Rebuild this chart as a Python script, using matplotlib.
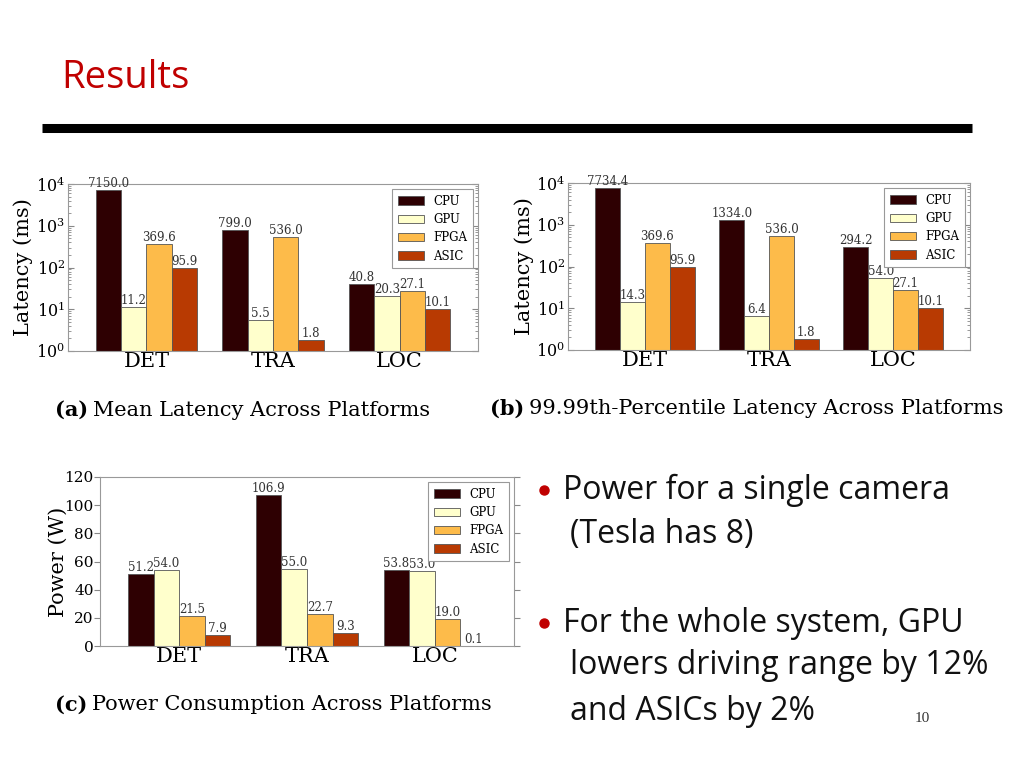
import matplotlib
matplotlib.use("Agg")
import matplotlib.pyplot as plt
import numpy as np
from matplotlib.lines import Line2D

# ---- data ----
categories = ["DET", "TRA", "LOC"]
platforms = ["CPU", "GPU", "FPGA", "ASIC"]
mean_latency = {
    "CPU": [7150.0, 799.0, 40.8],
    "GPU": [11.2, 5.5, 20.3],
    "FPGA": [369.6, 536.0, 27.1],
    "ASIC": [95.9, 1.8, 10.1],
}
tail_latency = {
    "CPU": [7734.4, 1334.0, 294.2],
    "GPU": [14.3, 6.4, 54.0],
    "FPGA": [369.6, 536.0, 27.1],
    "ASIC": [95.9, 1.8, 10.1],
}
power = {
    "CPU": [51.2, 106.9, 53.8],
    "GPU": [54.0, 55.0, 53.0],
    "FPGA": [21.5, 22.7, 19.0],
    "ASIC": [7.9, 9.3, 0.1],
}
log_ticks = [1, 10, 100, 1000, 10000]
power_ticks = [0, 20, 40, 60, 80, 100, 120]

colors = {"CPU": "#2e0002", "GPU": "#ffffcc", "FPGA": "#fdbb4a", "ASIC": "#b83a02"}

SERIF = "DejaVu Serif"
plt.rcParams["font.family"] = SERIF
plt.rcParams["mathtext.fontset"] = "dejavuserif"

W, H = 1024, 768
fig = plt.figure(figsize=(W / 100, H / 100), dpi=100)
fig.patch.set_facecolor("white")


def px_axes(l, t, r, b):
    return fig.add_axes([l / W, 1 - b / H, (r - l) / W, (b - t) / H])


def draw_chart(ax, data, log, ylabel, yticks, ylim, label_x, tickdir, ticksize, tickpad):
    bw = 0.2
    x = np.arange(len(categories))
    for j, p in enumerate(platforms):
        bars = ax.bar(x + j * bw, data[p], bw, align="edge", color=colors[p],
                      edgecolor="#555555", linewidth=0.6, label=p)
        ax.bar_label(bars, fmt="%.1f", padding=0, fontsize=8.5, color="#333333")
    if log:
        ax.set_yscale("log")
    ax.set_ylim(*ylim)
    ax.set_xlim(-0.22, 3.02)
    ax.set_yticks(yticks)
    if log:
        ax.set_yticklabels([r"$10^{%d}$" % int(np.log10(t)) for t in yticks])
    ax.set_xticks(x + 0.4)
    ax.set_xticklabels(categories, fontsize=15)
    ax.tick_params(axis="x", length=0, pad=1)
    ax.tick_params(axis="y", which="major", length=4)
    ax.tick_params(axis="y", which="both", direction=tickdir, right=True,
                   labelsize=ticksize, color="#888888", pad=tickpad)
    ax.set_ylabel(ylabel, fontsize=15)
    ax.yaxis.label.set_va("center")
    ax.yaxis.set_label_coords(label_x, 0.5)
    for s in ax.spines.values():
        s.set_color("#999999")
        s.set_linewidth(0.8)
    leg = ax.legend(loc="upper right", fontsize=8.5, handlelength=2.2, handleheight=0.7,
                    borderaxespad=0.4, labelspacing=0.45, fancybox=False, framealpha=1,
                    handletextpad=0.8, borderpad=0.5)
    leg.get_frame().set_edgecolor("#999999")
    leg.get_frame().set_linewidth(0.8)


ax_a = px_axes(68, 184, 478, 351)
draw_chart(ax_a, mean_latency, True, "Latency (ms)", log_ticks, (1, 10000), -0.11, "in", 11.5, 2)
ax_b = px_axes(568, 183, 970, 350)
draw_chart(ax_b, tail_latency, True, "Latency (ms)", log_ticks, (1, 10000), -0.109, "in", 11.5, 2)
ax_c = px_axes(100, 477, 514, 646)
draw_chart(ax_c, power, False, "Power (W)", power_ticks, (0, 120), -0.1, "out", 11, 0.5)

# ---- slide elements ----
SANS = "Open Sans"
fig.text(61 / W, 1 - 78 / H, "Results", fontsize=27.5, color="#c00000", family=SANS,
         va="center", ha="left")
fig.add_artist(Line2D([42 / W, 972 / W], [1 - 128 / H, 1 - 128 / H], color="black",
                      linewidth=6.5, solid_capstyle="butt"))


def caption(x, y, tag, rest):
    t = fig.text(x / W, 1 - y / H, tag, fontsize=15, fontweight="bold", family=SERIF,
                 va="center", ha="left")
    fig.canvas.draw()
    bb = t.get_window_extent()
    fig.text((bb.x1 + 5) / W, 1 - y / H, rest, fontsize=15, family=SERIF,
             va="center", ha="left")


caption(55, 410, "(a)", "Mean Latency Across Platforms")
caption(490, 409, "(b)", "99.99th-Percentile Latency Across Platforms")
caption(55, 705, "(c)", "Power Consumption Across Platforms")

bullet_fs = 23
for y in [490, 623]:
    fig.add_artist(Line2D([544 / W], [1 - y / H], marker="o", markersize=6.5,
                          color="#c00000", linestyle="none"))
lines = [
    (563, 490, "Power for a single camera"),
    (570, 535, "(Tesla has 8)"),
    (563, 623, "For the whole system, GPU"),
    (570, 666, "lowers driving range by 12%"),
    (570, 712, "and ASICs by 2%"),
]
for x, y, s in lines:
    fig.text(x / W, 1 - y / H, s, fontsize=bullet_fs, family=SANS, va="center",
             ha="left", color="#111111")
fig.text(915 / W, 1 - 718 / H, "10", fontsize=11, family="Liberation Serif",
         va="center", ha="left", color="#333333")

fig.savefig("out.png", dpi=100)
